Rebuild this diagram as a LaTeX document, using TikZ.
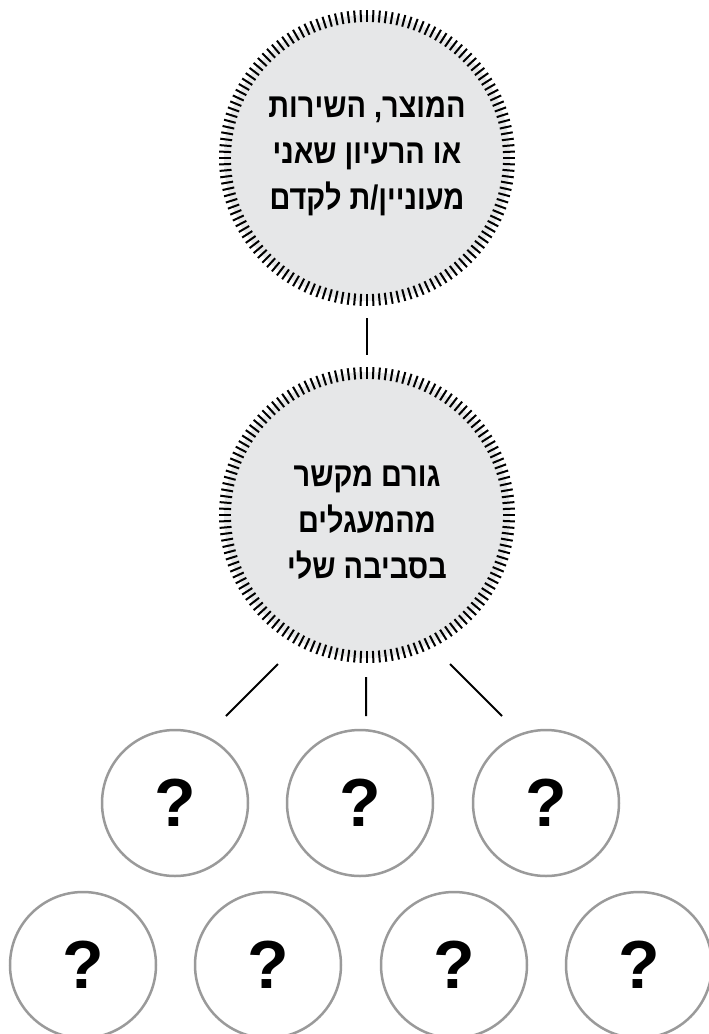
\documentclass[tikz,border=0pt]{standalone}
\usepackage{fontspec}
\setmainfont{Liberation Sans}
\newfontfamily\hebfont[Script=Hebrew,FakeStretch=0.85]{Liberation Sans}
\TeXXeTstate=1
\definecolor{ringgray}{HTML}{E6E7E8}
\definecolor{qgray}{HTML}{9A9A9A}

\begin{document}
\begin{tikzpicture}[x=1pt,y=-1pt,
	ring/.style={circle,fill=ringgray,minimum size=286pt,inner sep=0pt,outer sep=0pt},
	tick/.style={line width=2pt},
	quest/.style={circle,draw=qgray,line width=2.5pt,minimum size=146pt,inner sep=0pt,
		font=\fontsize{68}{68}\selectfont\bfseries},
	hebtext/.style={align=center,font=\hebfont\bfseries\fontsize{34}{46}\selectfont},
	link/.style={line width=2pt}]
	\useasboundingbox (0,0) rectangle (709,1034);

	% the two ringed circles
	\node[ring] (product) at (367,158) {};
	\node[ring] (contact) at (367,515) {};
	\foreach \c in {product,contact}
		\foreach \a in {0,2.5,...,357.5}
			\draw[tick,shift={(\c.center)}] (\a:136) -- (\a:148);
	\node[hebtext] (producttext) at (367,156)
	{\beginR המוצר, השירות\endR\\\beginR או הרעיון שאני\endR\\\beginR מעוניין/ת לקדם\endR};
	\node[hebtext] (contacttext) at (367,523)
	{\beginR גורם מקשר\endR\\\beginR מהמעגלים\endR\\\beginR בסביבה שלי\endR};

	% question circles
	\foreach \x [count=\i] in {175,360,546}
		\node[quest] (q\i) at (\x,803) {?};
	\foreach \x [count=\i] in {83,268,454,639}
		\node[quest] (r\i) at (\x,965) {?};

	% connectors
	\draw[link,shorten <=17pt,shorten >=17pt] (product) -- (contact);
	\coordinate (fanl) at (278,664);
	\coordinate (fanlend) at (226,716);
	\coordinate (fanm) at (366,677);
	\coordinate (fanmend) at (366,716);
	\coordinate (fanr) at (450,664);
	\coordinate (fanrend) at (502,716);
	\draw[link] (fanl) -- (fanlend) (fanm) -- (fanmend) (fanr) -- (fanrend);
\end{tikzpicture}
\end{document}
